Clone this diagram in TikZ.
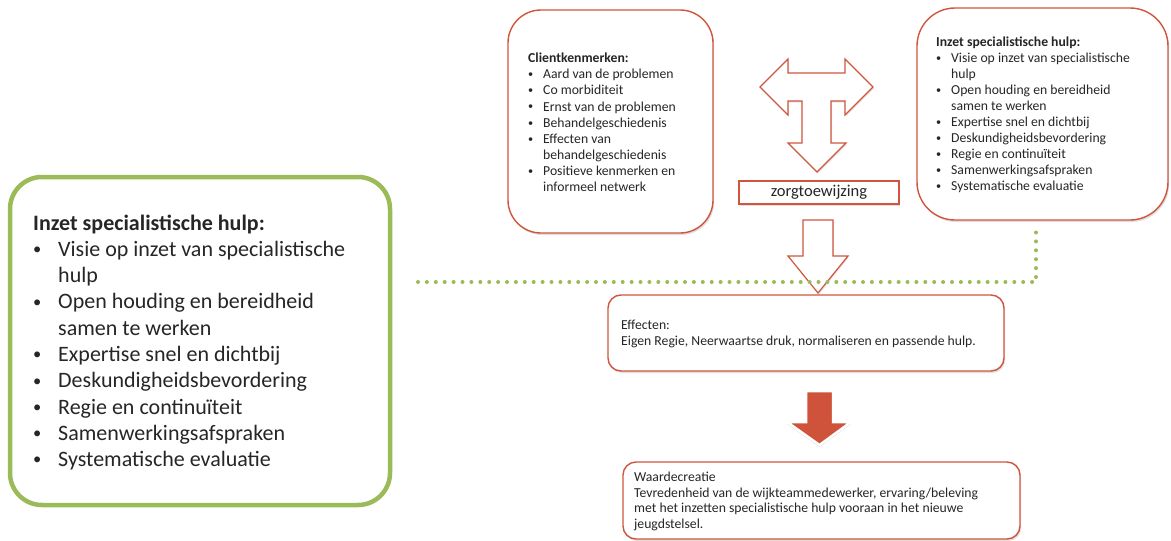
\documentclass[tikz,border=0pt]{standalone}
\usepackage{fontspec}
\setmainfont{Carlito}
\usetikzlibrary{shadows}

\definecolor{accred}{RGB}{208,85,60}
\definecolor{accfill}{RGB}{207,83,58}
\definecolor{accgreen}{RGB}{155,187,89}
\definecolor{txt}{RGB}{38,38,38}

% bulleted lines
\newlength\bulw
\newcommand\bul{\raisebox{.08em}{\scalebox{.75}{\textbullet}}}
\newcommand\itm[1]{\par\hangindent=\bulw\hangafter=1\noindent\makebox[\bulw][l]{\bul}#1\par}
\newcommand\lst[5]{\begin{minipage}[t]{#1}\fontsize{#2}{#3}\selectfont\setlength\bulw{#4}\raggedright #5\end{minipage}}

\tikzset{
  redbox/.style={draw=accred, line width=1.4pt, fill=white, rounded corners=#1,
    drop shadow={opacity=.25, shadow xshift=1.2pt, shadow yshift=-2pt}},
  redbox/.default=30pt,
  greenbox/.style={draw=accgreen, line width=4.5pt, fill=white, rounded corners=32pt},
  txtnode/.style={anchor=base west, inner sep=0pt, text=txt},
  hollowarrow/.style={draw=accred, line width=1.2pt, fill=white, line join=miter,
    drop shadow={opacity=.2, shadow xshift=1pt, shadow yshift=-1.5pt}},
  solidarrow/.style={draw=white, line width=2.5pt, fill=accfill, line join=miter,
    drop shadow={opacity=.3, shadow xshift=0pt, shadow yshift=-2pt}},
  dotline/.style={draw=accgreen, line width=4pt, line cap=round, dash pattern=on 0pt off 8.9pt}
}

\begin{document}
\begin{tikzpicture}[x=1pt, y=-1pt]
  \useasboundingbox (0,0) rectangle (1171,541);

  % left box
  \node[greenbox, minimum width=380pt, minimum height=328pt] (inzetbig) at (200,341) {};
  \node[txtnode] (inzetbigtxt) at (33,230) {\lst{350pt}{22}{26.3}{25pt}{%
    \textbf{Inzet specialistische hulp:}
    \itm{Visie op inzet van specialistische\newline hulp}
    \itm{Open houding en bereidheid\newline samen te werken}
    \itm{Expertise snel en dichtbij}
    \itm{Deskundigheidsbevordering}
    \itm{Regie en continuïteit}
    \itm{Samenwerkingsafspraken}
    \itm{Systematische evaluatie}}};

  % top boxes
  \node[redbox=33pt, minimum width=205pt, minimum height=223pt] (client) at (610.5,121.5) {};
  \node[txtnode] (clienttxt) at (528,62.7) {\lst{180pt}{13.7}{16.1}{15pt}{%
    \textbf{Clientkenmerken:}
    \itm{Aard van de problemen}
    \itm{Co morbiditeit}
    \itm{Ernst van de problemen}
    \itm{Behandelgeschiedenis}
    \itm{Effecten van\newline behandelgeschiedenis}
    \itm{Positieve kenmerken en\newline informeel netwerk}}};

  \node[redbox=38pt, minimum width=251pt, minimum height=212pt] (inzet) at (1042.5,114) {};
  \node[txtnode] (inzettxt) at (936,46.7) {\lst{225pt}{13.7}{16}{15pt}{%
    \textbf{Inzet specialistische hulp:}
    \itm{Visie op inzet van specialistische\newline hulp}
    \itm{Open houding en bereidheid\newline samen te werken}
    \itm{Expertise snel en dichtbij}
    \itm{Deskundigheidsbevordering}
    \itm{Regie en continuïteit}
    \itm{Samenwerkingsafspraken}
    \itm{Systematische evaluatie}}};

  % T arrow
  \draw[hollowarrow] (760,87) -- (788,59) -- (788,73) -- (845,73) -- (845,59)
    -- (873,87) -- (845,115) -- (845,101) -- (831,101) -- (831,143) -- (846,143)
    -- (817,172) -- (788,143) -- (802,143) -- (802,101) -- (788,101) -- (788,115) -- cycle;

  \node[redbox=0pt, minimum width=160pt, minimum height=23pt, text=txt,
    font=\fontsize{16.5}{18}\selectfont] (zorg) at (819,192.5) {zorgtoewijzing};

  % down arrow
  \draw[hollowarrow] (803,220) -- (833,220) -- (833,256) -- (848,256) -- (818,293)
    -- (788,256) -- (803,256) -- cycle;

  % dotted line
  \coordinate (dotL) at (418,282);
  \coordinate (dotC) at (1036,282);
  \coordinate (dotT) at (1036,231);
  \draw[dotline] (dotL) -- (dotC) -- (dotT);

  % effects
  \node[redbox=13pt, minimum width=396pt, minimum height=76pt] (effect) at (806,333) {};
  \node[txtnode] (effecttxt) at (621,329) {\lst{380pt}{13.7}{16}{0pt}{%
    Effecten:\\Eigen Regie, Neerwaartse druk, normaliseren en passende hulp.}};

  % solid arrow
  \draw[solidarrow] (806,391) -- (833,391) -- (833,422) -- (851,422) -- (819.5,445)
    -- (787,422) -- (806,422) -- cycle;

  % value
  \node[redbox=13pt, minimum width=397pt, minimum height=77pt] (value) at (821.5,500.5) {};
  \node[txtnode] (valuetxt) at (634,481.7) {\lst{380pt}{13.7}{15.5}{0pt}{%
    Waardecreatie\\Tevredenheid van de wijkteammedewerker, ervaring/beleving\\met het inzetten specialistische hulp vooraan in het nieuwe\\jeugdstelsel.}};
\end{tikzpicture}
\end{document}
